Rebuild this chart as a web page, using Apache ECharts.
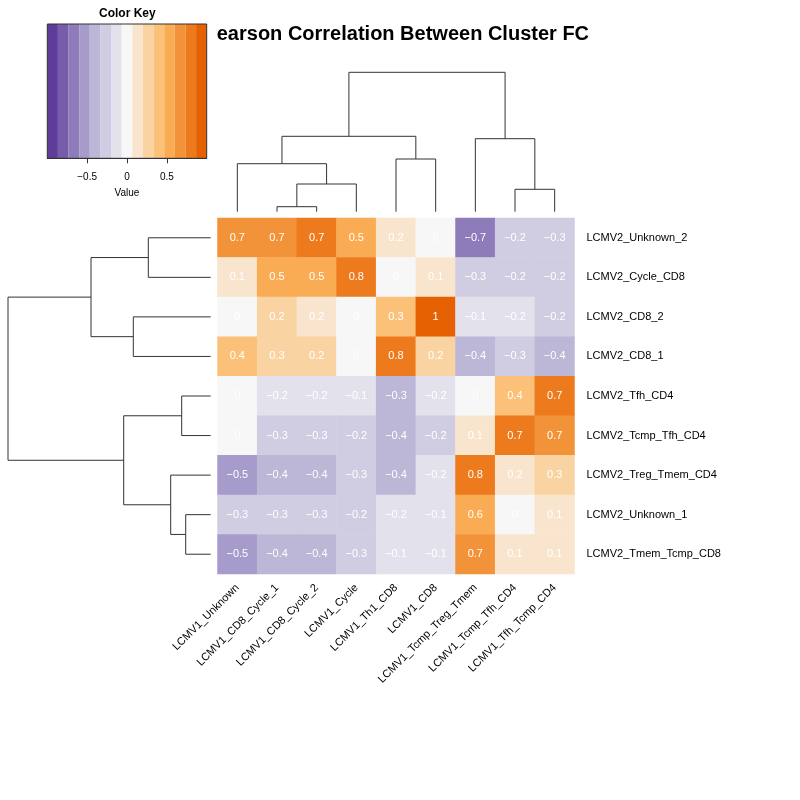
<!DOCTYPE html>
<html>
<head>
<meta charset="utf-8">
<script src="https://cdn.jsdelivr.net/npm/echarts@6/dist/echarts.min.js"></script>
<style>
  html, body { margin: 0; background: #fff; }
  #chart { width: 800px; height: 800px; }
</style>
</head>
<body>
<div id="chart"></div>
<script>
const FONT = '"Liberation Sans", Arial, Helvetica, sans-serif';

const colNames = ['LCMV1_Unknown', 'LCMV1_CD8_Cycle_1', 'LCMV1_CD8_Cycle_2', 'LCMV1_Cycle', 'LCMV1_Th1_CD8',
  'LCMV1_CD8', 'LCMV1_Tcmp_Treg_Tmem', 'LCMV1_Tcmp_Tfh_CD4', 'LCMV1_Tfh_Tcmp_CD4'];
const rowNames = ['LCMV2_Unknown_2', 'LCMV2_Cycle_CD8', 'LCMV2_CD8_2', 'LCMV2_CD8_1', 'LCMV2_Tfh_CD4',
  'LCMV2_Tcmp_Tfh_CD4', 'LCMV2_Treg_Tmem_CD4', 'LCMV2_Unknown_1', 'LCMV2_Tmem_Tcmp_CD8'];

// one row per LCMV2 cluster, columns in colNames order
const corr = [
  [0.7, 0.7, 0.74, 0.5, 0.18, 0, -0.7, -0.22, -0.28],
  [0.1, 0.5, 0.5, 0.8, 0, 0.1, -0.28, -0.22, -0.22],
  [0, 0.22, 0.18, 0, 0.34, 1, -0.1, -0.18, -0.22],
  [0.4, 0.28, 0.22, 0, 0.8, 0.22, -0.4, -0.28, -0.4],
  [0, -0.18, -0.18, -0.1, -0.34, -0.18, 0, 0.4, 0.74],
  [0, -0.28, -0.28, -0.22, -0.4, -0.22, 0.1, 0.74, 0.7],
  [-0.5, -0.4, -0.4, -0.28, -0.4, -0.18, 0.8, 0.18, 0.28],
  [-0.28, -0.28, -0.28, -0.22, -0.18, -0.1, 0.58, 0, 0.1],
  [-0.5, -0.4, -0.4, -0.28, -0.1, -0.1, 0.7, 0.1, 0.1]
];

const breaks = [-1, -0.867, -0.733, -0.6, -0.467, -0.333, -0.2, -0.067, 0.067, 0.2, 0.333, 0.467, 0.6, 0.733, 0.867, 1];
const palette = ['#5e3c99', '#765ca9', '#8e7bba', '#a69bca', '#bcb6d7', '#d0cce2', '#e3e1ec', '#f7f7f7',
  '#f9e5cd', '#fad3a2', '#fcc178', '#faac55', '#f39339', '#ed7a1d', '#e66101'];
const keyTicks = [-0.5, 0, 0.5];

// hclust style merges: negative = leaf (1-based, display order), positive = earlier merge
const colMerge = [[-2, -3], [-4, 1], [-1, 2], [-5, -6], [3, 4], [-8, -9], [-7, 6], [5, 7]];
const colHeight = [0.05, 0.277, 0.48, 0.527, 0.754, 0.224, 0.73, 1.394];
const rowMerge = [[-1, -2], [-3, -4], [1, 2], [-5, -6], [-8, -9], [-7, 5], [4, 6], [3, 7]];
const rowHeight = [0.624, 0.774, 1.197, 0.29, 0.25, 0.40, 0.87, 2.027];

function dendroSegments(merge, height) {
  const pos = [];
  const node = k => (k < 0 ? [-k - 0.5, 0] : [pos[k - 1], height[k - 1]]);
  return merge.map(([a, b], i) => {
    const [xa, ha] = node(a);
    const [xb, hb] = node(b);
    pos.push((xa + xb) / 2);
    return [xa, ha, xb, hb, height[i]];
  });
}

function fmt(v) {
  const s = String(Number(v.toFixed(1)));
  return s === '-0' ? '0' : s.replace('-', '\u2212');
}

const lineStyle = { stroke: '#333', lineWidth: 1, fill: null };

function renderColTree(params, api) {
  const pts = [[api.value(0), api.value(1)], [api.value(0), api.value(4)],
    [api.value(2), api.value(4)], [api.value(2), api.value(3)]].map(d => api.coord(d));
  return { type: 'polyline', shape: { points: pts }, style: lineStyle };
}

function renderRowTree(params, api) {
  const pts = [[api.value(1), api.value(0)], [api.value(4), api.value(0)],
    [api.value(4), api.value(2)], [api.value(3), api.value(2)]].map(d => api.coord(d));
  return { type: 'polyline', shape: { points: pts }, style: lineStyle };
}

function renderKey(params, api) {
  const p0 = api.coord([api.value(0), 0]);
  const p1 = api.coord([api.value(1), 1]);
  return {
    type: 'rect',
    shape: { x: p0[0], y: p1[1], width: p1[0] - p0[0], height: p0[1] - p1[1] },
    style: { fill: palette[params.dataIndex] }
  };
}

const pieces = palette.map((c, i) => {
  const p = { gte: breaks[i], color: c };
  if (i === palette.length - 1) p.lte = breaks[i + 1]; else p.lt = breaks[i + 1];
  return p;
});

const cells = [];
corr.forEach((row, r) => row.forEach((v, c) => cells.push([c, r, v])));

const keyBins = palette.map((c, i) => [breaks[i], breaks[i + 1]]);

const chart = echarts.init(document.getElementById('chart'));
chart.setOption({
  animation: false,
  backgroundColor: '#fff',
  textStyle: { fontFamily: FONT },
  title: [
    {
      text: 'Pearson Correlation Between Cluster FC',
      left: 203.4,
      top: 24,
      padding: 0,
      textStyle: { fontSize: 20, fontWeight: 'bold', color: '#000', fontFamily: FONT }
    },
    {
      text: 'Color Key',
      left: 99,
      top: 7.5,
      padding: 0,
      z: 60,
      textStyle: { fontSize: 12, fontWeight: 'bold', color: '#000', fontFamily: FONT }
    }
  ],
  graphic: [
    { type: 'rect', z: 50, shape: { x: 0, y: 0, width: 216.5, height: 205 }, style: { fill: '#fff' } }
  ],
  grid: [
    { left: 217.5, top: 218, width: 357, height: 356 },
    { left: 217.5, top: 72.3, width: 357, height: 139.4 },
    { left: 8, top: 218, width: 202.7, height: 356 },
    { left: 47.3, top: 24, width: 159.4, height: 134.3, show: true, borderColor: '#333', borderWidth: 1,
      backgroundColor: 'transparent', z: 60 }
  ],
  xAxis: [
    {
      type: 'category', gridIndex: 0, data: colNames,
      axisLine: { show: false }, axisTick: { show: false }, splitLine: { show: false },
      axisLabel: { rotate: 45, margin: 12, fontSize: 11, color: '#000', fontFamily: FONT, interval: 0 }
    },
    { type: 'value', gridIndex: 1, min: 0, max: 9, show: false },
    { type: 'value', gridIndex: 2, min: 0, max: 2.027, inverse: true, show: false },
    {
      type: 'value', gridIndex: 3, min: -1, max: 1, z: 60,
      axisLine: { show: true, lineStyle: { color: '#333' } },
      axisTick: { show: true, length: 5, customValues: keyTicks, lineStyle: { color: '#333' } },
      axisLabel: { customValues: keyTicks, formatter: v => fmt(v), fontSize: 10, margin: 13.5, color: '#000', fontFamily: FONT },
      splitLine: { show: false },
      name: 'Value', nameLocation: 'middle', nameGap: 30,
      nameTextStyle: { fontSize: 10, color: '#000', fontFamily: FONT }
    }
  ],
  yAxis: [
    {
      type: 'category', gridIndex: 0, data: rowNames, inverse: true, position: 'right',
      axisLine: { show: false }, axisTick: { show: false }, splitLine: { show: false },
      axisLabel: { margin: 12, fontSize: 11, color: '#000', fontFamily: FONT, interval: 0 }
    },
    { type: 'value', gridIndex: 1, min: 0, max: 1.394, show: false },
    { type: 'value', gridIndex: 2, min: 0, max: 9, inverse: true, show: false },
    { type: 'value', gridIndex: 3, min: 0, max: 1, show: false }
  ],
  visualMap: {
    type: 'piecewise', show: false, seriesIndex: 0, dimension: 2, pieces: pieces
  },
  series: [
    {
      type: 'heatmap', xAxisIndex: 0, yAxisIndex: 0, data: cells,
      label: {
        show: true, color: '#fff', fontSize: 11, fontFamily: FONT,
        formatter: p => fmt(p.value[2])
      },
      itemStyle: { borderWidth: 0 },
      emphasis: { disabled: true }
    },
    {
      type: 'custom', xAxisIndex: 1, yAxisIndex: 1, renderItem: renderColTree,
      data: dendroSegments(colMerge, colHeight), silent: true
    },
    {
      type: 'custom', xAxisIndex: 2, yAxisIndex: 2, renderItem: renderRowTree,
      data: dendroSegments(rowMerge, rowHeight), silent: true
    },
    {
      type: 'custom', xAxisIndex: 3, yAxisIndex: 3, renderItem: renderKey,
      data: keyBins, silent: true, z: 55
    }
  ]
});
</script>
</body>
</html>
